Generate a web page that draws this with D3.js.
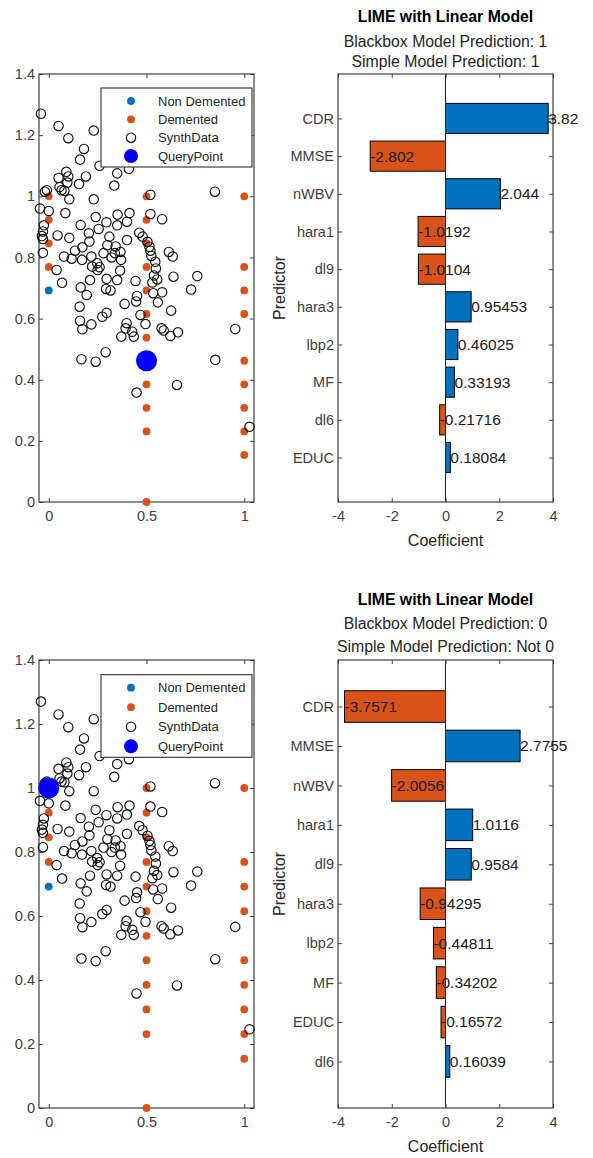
<!DOCTYPE html>
<html>
<head>
<meta charset="utf-8">
<script src="https://cdn.jsdelivr.net/npm/d3@7"></script>
<style>
  body { margin: 0; background: #fff; }
  svg { display: block; font-family: "Liberation Sans", Arial, Helvetica, sans-serif; }
  .axis line { stroke: #404040; }
  .axis text { fill: #404040; font-size: 14.5px; }
</style>
</head>
<body>
<svg class="chart"></svg>
<script>
// bar charts: LIME coefficients
const predictorsTop = ['CDR', 'MMSE', 'nWBV', 'hara1', 'dl9', 'hara3', 'lbp2', 'MF', 'dl6', 'EDUC'];
const coefTop = [3.82, -2.802, 2.044, -1.0192, -1.0104, 0.95453, 0.46025, 0.33193, -0.21716, 0.18084];
const predictorsBottom = ['CDR', 'MMSE', 'nWBV', 'hara1', 'dl9', 'hara3', 'lbp2', 'MF', 'EDUC', 'dl6'];
const coefBottom = [-3.7571, 2.7755, -2.0056, 1.0116, 0.9584, -0.94295, -0.44811, -0.34202, -0.16572, 0.16039];
const titleTop = ['LIME with Linear Model', 'Blackbox Model Prediction: 1', 'Simple Model Prediction: 1'];
const titleBottom = ['LIME with Linear Model', 'Blackbox Model Prediction: 0', 'Simple Model Prediction: Not 0'];

// scatter plots
const nonDementedX = [0];
const nonDementedY = [0.692];
const dementedX = [0, 0, 0, 0,
  0.5, 0.5, 0.5, 0.5, 0.5, 0.5, 0.5, 0.5, 0.5, 0.5, 0.5, 0.5,
  1, 1, 1, 1, 1, 1, 1, 1, 1];
const dementedY = [1, 0.923, 0.846, 0.769,
  1, 0.923, 0.846, 0.769, 0.692, 0.615, 0.538, 0.462, 0.385, 0.308, 0.231, 0,
  1, 0.769, 0.692, 0.615, 0.462, 0.385, 0.308, 0.231, 0.154];
const synthX = [-0.04, 0.05, 0.10, 0.23, 0.18, 0.16, 0.26, 0.41, 0.35, 0.09,
  0.05, 0.10, 0.19, 0.095, 0.155, 0.055, 0.065, 0.08, 0.335, -0.01,
  -0.02, 0.105, 0.23, 0.52, 0.85, -0.045, 0.0, 0.085, -0.025, -0.03,
  -0.035, -0.03, -0.03, 0.045, 0.105, 0.163, 0.205, 0.208, 0.24, 0.255,
  0.295, 0.31, 0.352, 0.35, 0.413, 0.40, 0.40, 0.30, 0.342, 0.28,
  0.338, 0.367, 0.321, 0.37, 0.463, 0.48, 0.52, 0.58, 0.505, 0.515,
  0.52, 0.525, 0.614, 0.634, 0.078, 0.134, 0.172, 0.117, 0.17, 0.218,
  0.222, 0.248, 0.26, 0.25, 0.04, 0.365, 0.296, 0.35, 0.545, 0.548,
  0.538, 0.555, 0.53, 0.638, 0.76, 0.444, 0.068, 0.211, 0.163, 0.728,
  0.194, 0.293, 0.316, 0.452, 0.447, 0.534, 0.58, 0.558, 0.626, 0.158,
  0.16, 0.172, 0.218, 0.274, 0.296, 0.388, 0.469, 0.398, 0.393, 0.427,
  0.435, 0.371, 0.495, 0.577, 0.588, 0.622, 0.661, 0.954, 0.167, 0.24,
  0.291, 0.852, 0.656, 0.449, 1.027];
const synthY = [1.27, 1.23, 1.19, 1.215, 1.155, 1.12, 1.10, 1.09, 1.075, 1.08,
  1.06, 1.065, 1.065, 1.045, 1.04, 1.03, 1.02, 1.018, 1.035, 1.02,
  1.015, 0.99, 0.99, 1.005, 1.015, 0.96, 0.952, 0.945, 0.905, 0.885,
  0.87, 0.86, 0.815, 0.872, 0.864, 0.906, 0.879, 0.852, 0.932, 0.893,
  0.915, 0.868, 0.94, 0.905, 0.945, 0.917, 0.857, 0.84, 0.836, 0.814,
  0.814, 0.818, 0.80, 0.792, 0.881, 0.868, 0.942, 0.925, 0.851, 0.835,
  0.822, 0.805, 0.818, 0.803, 0.803, 0.822, 0.833, 0.796, 0.792, 0.803,
  0.77, 0.781, 0.768, 0.759, 0.759, 0.757, 0.73, 0.726, 0.786, 0.764,
  0.741, 0.728, 0.718, 0.737, 0.739, 0.723, 0.717, 0.726, 0.702, 0.695,
  0.677, 0.697, 0.692, 0.674, 0.656, 0.683, 0.686, 0.653, 0.626, 0.639,
  0.593, 0.565, 0.581, 0.606, 0.619, 0.648, 0.612, 0.585, 0.568, 0.557,
  0.541, 0.541, 0.582, 0.568, 0.561, 0.543, 0.555, 0.566, 0.467, 0.459,
  0.49, 0.465, 0.383, 0.358, 0.246];
const queryTop = [0.5, 0.462];
const queryBottom = [0, 1];

const scatterXTicks = [0, 0.5, 1];
const scatterXLabels = ['0', '0.5', '1'];
const scatterYTicks = [0, 0.2, 0.4, 0.6, 0.8, 1, 1.2, 1.4];
const scatterYLabels = ['0', '0.2', '0.4', '0.6', '0.8', '1', '1.2', '1.4'];
const coefTicks = [-4, -2, 0, 2, 4];
const coefTickLabels = ['-4', '-2', '0', '2', '4'];
const legendLabels = ['Non Demented', 'Demented', 'SynthData', 'QueryPoint'];

const blue = '#0072BD';
const orange = '#D95319';
const queryBlue = '#0000FF';

const svg = d3.select('.chart')
  .attr('width', 593)
  .attr('height', 1158);

// inward ticks on all four sides, like a boxed matlab axes
function boxAxes(g, x, y, left, right, top, bottom, xt, xl, yt, yl) {
  g.append('g')
    .attr('class', 'axis')
    .attr('transform', `translate(0, ${bottom})`)
    .call(d3.axisBottom(x).tickValues(xt).tickFormat((d, i) => xl[i])
      .tickSizeInner(-4).tickSizeOuter(0).tickPadding(9))
    .call(a => a.select('.domain').remove());
  g.append('g')
    .attr('class', 'axis')
    .attr('transform', `translate(0, ${top})`)
    .call(d3.axisTop(x).tickValues(xt).tickFormat('').tickSizeInner(-4).tickSizeOuter(0))
    .call(a => a.select('.domain').remove());
  g.append('g')
    .attr('class', 'axis')
    .attr('transform', `translate(${left}, 0)`)
    .call(d3.axisLeft(y).tickValues(yt).tickFormat((d, i) => yl[i])
      .tickSizeInner(-4).tickSizeOuter(0).tickPadding(4))
    .call(a => a.select('.domain').remove());
  g.append('g')
    .attr('class', 'axis')
    .attr('transform', `translate(${right}, 0)`)
    .call(d3.axisRight(y).tickValues(yt).tickFormat('').tickSizeInner(-4).tickSizeOuter(0))
    .call(a => a.select('.domain').remove());
  g.append('rect')
    .attr('x', left)
    .attr('y', top)
    .attr('width', right - left)
    .attr('height', bottom - top)
    .attr('fill', 'none')
    .attr('stroke', '#404040')
    .attr('stroke-width', 1.2);
}

function drawScatter(top, bottom, query) {
  const left = 39, right = 254;
  const x = d3.scaleLinear().domain([-0.05, 1.05]).range([left, right]);
  const y = d3.scaleLinear().domain([0, 1.4]).range([bottom, top]);
  const g = svg.append('g');

  boxAxes(g, x, y, left, right, top, bottom, scatterXTicks, scatterXLabels, scatterYTicks, scatterYLabels);

  g.selectAll('.nd')
    .data(nonDementedX)
    .enter()
  .append('circle')
    .attr('cx', d => x(d))
    .attr('cy', (d, i) => y(nonDementedY[i]))
    .attr('r', 3.9)
    .attr('fill', blue);

  g.selectAll('.dem')
    .data(dementedX)
    .enter()
  .append('circle')
    .attr('cx', d => x(d))
    .attr('cy', (d, i) => y(dementedY[i]))
    .attr('r', 3.9)
    .attr('fill', orange);

  g.selectAll('.synth')
    .data(synthX)
    .enter()
  .append('circle')
    .attr('cx', d => x(d))
    .attr('cy', (d, i) => y(synthY[i]))
    .attr('r', 4.7)
    .attr('fill', 'none')
    .attr('stroke', '#111')
    .attr('stroke-width', 1.15);

  g.append('circle')
    .attr('cx', x(query[0]))
    .attr('cy', y(query[1]))
    .attr('r', 10.5)
    .attr('fill', queryBlue);

  // legend
  const lh = 79 * (bottom - top) / 428;
  const ly = top + 14 * (bottom - top) / 428;
  const lg = g.append('g').attr('transform', `translate(101, ${ly})`);
  lg.append('rect')
    .attr('width', 151)
    .attr('height', lh)
    .attr('fill', '#fff')
    .attr('stroke', '#404040')
    .attr('stroke-width', 1.2);
  const rowY = d3.scalePoint().domain(legendLabels).range([13, lh - 11]);
  const row = lg.selectAll('.row')
    .data(legendLabels)
    .enter()
  .append('g')
    .attr('transform', d => `translate(0, ${rowY(d)})`);
  row.append('text')
    .attr('x', 57)
    .attr('dy', '0.35em')
    .attr('font-size', 13)
    .attr('fill', '#262626')
    .text(d => d);
  row.append('circle')
    .attr('cx', 30)
    .attr('r', (d, i) => [3.9, 3.9, 4.7, 7][i])
    .attr('fill', (d, i) => [blue, orange, 'none', queryBlue][i])
    .attr('stroke', (d, i) => i === 2 ? '#111' : 'none')
    .attr('stroke-width', 1.15);
}

function drawBars(top, bottom, predictors, coefs, titles, titleY) {
  const left = 338, right = 553;
  const x = d3.scaleLinear().domain([-4, 4]).range([left, right]);
  const y = d3.scalePoint().domain(predictors).range([top, bottom]).padding(1.18);
  const bh = y.step() * 0.8;
  const g = svg.append('g');

  g.selectAll('.bar')
    .data(coefs)
    .enter()
  .append('rect')
    .attr('x', d => x(Math.min(0, d)))
    .attr('y', (d, i) => y(predictors[i]) - bh / 2)
    .attr('width', d => Math.abs(x(d) - x(0)))
    .attr('height', bh)
    .attr('fill', d => d < 0 ? orange : blue)
    .attr('stroke', '#000')
    .attr('stroke-width', 1);

  g.append('line')
    .attr('x1', x(0))
    .attr('x2', x(0))
    .attr('y1', top)
    .attr('y2', bottom)
    .attr('stroke', '#262626')
    .attr('stroke-width', 1);

  boxAxes(g, x, y, left, right, top, bottom, coefTicks, coefTickLabels, predictors, predictors);

  g.selectAll('.val')
    .data(coefs)
    .enter()
  .append('text')
    .attr('x', d => x(d))
    .attr('y', (d, i) => y(predictors[i]))
    .attr('dy', '0.35em')
    .attr('font-size', 15.5)
    .attr('fill', '#1a1a1a')
    .text(d => String(d));

  g.selectAll('.title')
    .data(titles)
    .enter()
  .append('text')
    .attr('x', (left + right) / 2)
    .attr('y', (d, i) => titleY[i])
    .attr('dy', '0.35em')
    .attr('text-anchor', 'middle')
    .attr('font-size', 15.8)
    .attr('font-weight', (d, i) => i === 0 ? 'bold' : 'normal')
    .attr('fill', (d, i) => i === 0 ? '#000' : '#262626')
    .text(d => d);

  g.append('text')
    .attr('x', (left + right) / 2)
    .attr('y', bottom + 38.5)
    .attr('dy', '0.35em')
    .attr('text-anchor', 'middle')
    .attr('font-size', 16)
    .attr('fill', '#262626')
    .text('Coefficient');

  g.append('text')
    .attr('transform', `translate(279, ${(top + bottom) / 2}) rotate(-90)`)
    .attr('dy', '0.35em')
    .attr('text-anchor', 'middle')
    .attr('font-size', 16)
    .attr('fill', '#262626')
    .text('Predictor');
}

drawScatter(74, 502, queryTop);
drawScatter(660, 1108, queryBottom);
drawBars(74, 502, predictorsTop, coefTop, titleTop, [16, 41, 61]);
drawBars(660, 1108, predictorsBottom, coefBottom, titleBottom, [599, 623, 646]);
</script>
</body>
</html>
